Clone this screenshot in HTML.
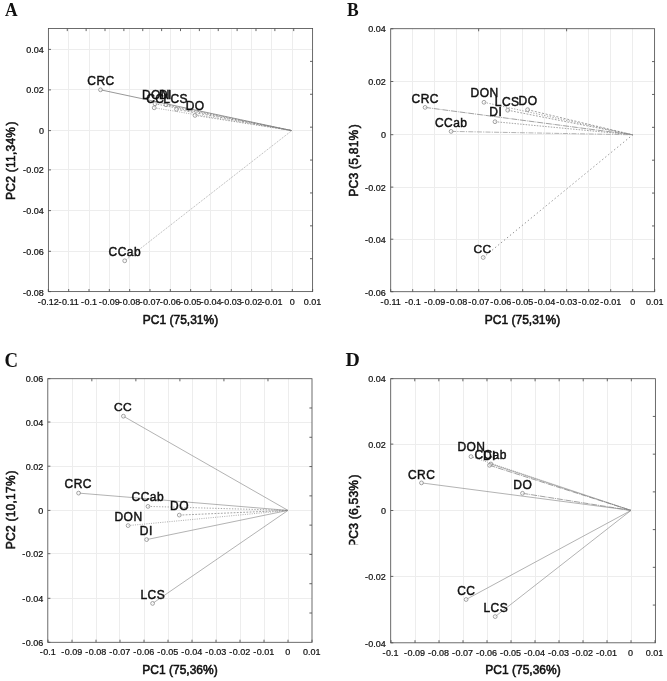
<!DOCTYPE html>
<html><head><meta charset="utf-8"><title>PCA biplots</title>
<style>
html,body{margin:0;padding:0;background:#fff;}
body{width:667px;height:681px;overflow:hidden;}
svg{display:block;will-change:transform;opacity:0.999;}
text{font-family:"Liberation Sans", sans-serif;fill:#111;}
.tk{font-size:9px;stroke:#111;stroke-width:0.22px;}
.ax{font-size:12px;stroke:#111;stroke-width:0.55px;}
.ay{font-size:12px;stroke:#111;stroke-width:0.55px;letter-spacing:0.25px;}
.lb{font-size:12px;stroke:#111;stroke-width:0.46px;letter-spacing:0.45px;}
.pl{font-family:"Liberation Serif", serif;font-size:17.5px;font-weight:bold;}
</style></head><body>
<svg width="667" height="681" viewBox="0 0 667 681">
<defs><clipPath id="clipD"><rect x="340" y="340" width="40" height="204.6"/></clipPath></defs>
<rect width="667" height="681" fill="#fff"/>
<path d="M68.5 28.50V291.60M89.5 28.50V291.60M109.5 28.50V291.60M129.5 28.50V291.60M149.5 28.50V291.60M170.5 28.50V291.60M190.5 28.50V291.60M210.5 28.50V291.60M231.5 28.50V291.60M251.5 28.50V291.60M271.5 28.50V291.60M292.5 28.50V291.60M48.40 49.5H312.60M48.40 89.5H312.60M48.40 130.5H312.60M48.40 169.5H312.60M48.40 210.5H312.60M48.40 251.5H312.60" stroke="#ededed" stroke-width="1" fill="none"/>
<rect x="48.40" y="28.50" width="264.20" height="263.10" fill="none" stroke="#525252" stroke-width="0.85"/>
<path d="M48.34 291.60v-2.6M68.67 291.60v-2.6M89.00 291.60v-2.6M109.33 291.60v-2.6M129.66 291.60v-2.6M149.99 291.60v-2.6M170.32 291.60v-2.6M190.65 291.60v-2.6M210.98 291.60v-2.6M231.31 291.60v-2.6M251.64 291.60v-2.6M271.97 291.60v-2.6M292.30 291.60v-2.6M312.63 291.60v-2.6M48.40 49.40h2.6M48.40 89.90h2.6M48.40 130.60h2.6M48.40 169.90h2.6M48.40 210.60h2.6M48.40 251.30h2.6M48.40 291.60h2.6M67.27 28.50v2.6M86.14 28.50v2.6M105.01 28.50v2.6M123.89 28.50v2.6M142.76 28.50v2.6M161.63 28.50v2.6M180.50 28.50v2.6M199.37 28.50v2.6M218.24 28.50v2.6M237.11 28.50v2.6M255.99 28.50v2.6M274.86 28.50v2.6M293.73 28.50v2.6M312.60 61.39h-2.6M312.60 94.28h-2.6M312.60 127.16h-2.6M312.60 160.05h-2.6M312.60 192.94h-2.6M312.60 225.83h-2.6M312.60 258.71h-2.6" stroke="#525252" stroke-width="0.9" fill="none"/>
<text class="tk" x="48.34" y="304.80" text-anchor="middle">-<tspan dx="0.55">0.12</tspan></text>
<text class="tk" x="68.67" y="304.80" text-anchor="middle">-<tspan dx="0.55">0.11</tspan></text>
<text class="tk" x="89.00" y="304.80" text-anchor="middle">-<tspan dx="0.55">0.1</tspan></text>
<text class="tk" x="109.33" y="304.80" text-anchor="middle">-<tspan dx="0.55">0.09</tspan></text>
<text class="tk" x="129.66" y="304.80" text-anchor="middle">-<tspan dx="0.55">0.08</tspan></text>
<text class="tk" x="149.99" y="304.80" text-anchor="middle">-<tspan dx="0.55">0.07</tspan></text>
<text class="tk" x="170.32" y="304.80" text-anchor="middle">-<tspan dx="0.55">0.06</tspan></text>
<text class="tk" x="190.65" y="304.80" text-anchor="middle">-<tspan dx="0.55">0.05</tspan></text>
<text class="tk" x="210.98" y="304.80" text-anchor="middle">-<tspan dx="0.55">0.04</tspan></text>
<text class="tk" x="231.31" y="304.80" text-anchor="middle">-<tspan dx="0.55">0.03</tspan></text>
<text class="tk" x="251.64" y="304.80" text-anchor="middle">-<tspan dx="0.55">0.02</tspan></text>
<text class="tk" x="271.97" y="304.80" text-anchor="middle">-<tspan dx="0.55">0.01</tspan></text>
<text class="tk" x="292.30" y="304.80" text-anchor="middle">0</text>
<text class="tk" x="312.63" y="304.80" text-anchor="middle">0.01</text>
<text class="tk" x="43.90" y="52.90" text-anchor="end">0.04</text>
<text class="tk" x="43.90" y="93.40" text-anchor="end">0.02</text>
<text class="tk" x="43.90" y="134.10" text-anchor="end">0</text>
<text class="tk" x="43.90" y="173.40" text-anchor="end">-<tspan dx="0.3">0.02</tspan></text>
<text class="tk" x="43.90" y="214.10" text-anchor="end">-<tspan dx="0.3">0.04</tspan></text>
<text class="tk" x="43.90" y="254.80" text-anchor="end">-<tspan dx="0.3">0.06</tspan></text>
<text class="tk" x="43.90" y="295.60" text-anchor="end">-<tspan dx="0.3">0.08</tspan></text>
<text class="ax" x="180.50" y="323.60" text-anchor="middle">PC1 (75,31%)</text>
<g><text class="ay" transform="translate(14.80 160.60) rotate(-90)" text-anchor="middle">PC2 (11,34%<tspan dx="1.3">)</tspan></text></g>
<line x1="100.50" y1="89.80" x2="291.80" y2="130.60" stroke="#6c6c6c" stroke-width="0.7"/>
<line x1="155.00" y1="103.80" x2="291.80" y2="130.60" stroke="#7c7c7c" stroke-width="0.7" stroke-dasharray="1.5 1.3"/>
<line x1="154.20" y1="107.80" x2="291.80" y2="130.60" stroke="#8a8a8a" stroke-width="0.7" stroke-dasharray="1 1.3"/>
<line x1="166.00" y1="104.80" x2="291.80" y2="130.60" stroke="#7c7c7c" stroke-width="0.7" stroke-dasharray="1.8 1.4"/>
<line x1="176.50" y1="109.30" x2="291.80" y2="130.60" stroke="#7c7c7c" stroke-width="0.7" stroke-dasharray="2.1 1.6"/>
<line x1="195.00" y1="115.40" x2="291.80" y2="130.60" stroke="#808080" stroke-width="0.7" stroke-dasharray="1.3 1.5"/>
<line x1="124.70" y1="260.80" x2="291.80" y2="130.60" stroke="#8c8c8c" stroke-width="0.7" stroke-dasharray="1 1.1"/>
<circle cx="100.50" cy="89.80" r="1.9" fill="#fff" fill-opacity="0.55" stroke="#848484" stroke-width="0.75"/>
<circle cx="155.00" cy="103.80" r="1.9" fill="#fff" fill-opacity="0.55" stroke="#848484" stroke-width="0.75"/>
<circle cx="154.20" cy="107.80" r="1.9" fill="#fff" fill-opacity="0.55" stroke="#848484" stroke-width="0.75"/>
<circle cx="166.00" cy="104.80" r="1.9" fill="#fff" fill-opacity="0.55" stroke="#848484" stroke-width="0.75"/>
<circle cx="176.50" cy="109.30" r="1.9" fill="#fff" fill-opacity="0.55" stroke="#848484" stroke-width="0.75"/>
<circle cx="195.00" cy="115.40" r="1.9" fill="#fff" fill-opacity="0.55" stroke="#848484" stroke-width="0.75"/>
<circle cx="124.70" cy="260.80" r="1.9" fill="#fff" fill-opacity="0.55" stroke="#848484" stroke-width="0.75"/>
<text class="lb" x="87.30" y="84.80">CRC</text>
<text class="lb" x="141.90" y="99.00">DON</text>
<text class="lb" x="146.20" y="103.10">CC</text>
<text class="lb" x="159.00" y="99.00">DI</text>
<text class="lb" x="163.30" y="103.10">LCS</text>
<text class="lb" x="185.70" y="109.80">DO</text>
<text class="lb" x="108.60" y="255.70">CCab</text>
<text class="pl" transform="translate(4.90 15.90) scale(1.0 1.12)">A</text>
<path d="M412.5 28.70V291.70M434.5 28.70V291.70M456.5 28.70V291.70M478.5 28.70V291.70M500.5 28.70V291.70M522.5 28.70V291.70M544.5 28.70V291.70M566.5 28.70V291.70M588.5 28.70V291.70M610.5 28.70V291.70M632.5 28.70V291.70M390.70 81.5H654.60M390.70 134.5H654.60M390.70 187.5H654.60M390.70 239.5H654.60" stroke="#ededed" stroke-width="1" fill="none"/>
<rect x="390.70" y="28.70" width="263.90" height="263.00" fill="none" stroke="#525252" stroke-width="0.85"/>
<path d="M390.70 291.70v-2.6M412.70 291.70v-2.6M434.70 291.70v-2.6M456.70 291.70v-2.6M478.70 291.70v-2.6M500.70 291.70v-2.6M522.70 291.70v-2.6M544.70 291.70v-2.6M566.70 291.70v-2.6M588.70 291.70v-2.6M610.70 291.70v-2.6M632.70 291.70v-2.6M654.70 291.70v-2.6M390.70 28.80h2.6M390.70 81.50h2.6M390.70 134.70h2.6M390.70 187.10h2.6M390.70 239.20h2.6M390.70 291.70h2.6M478.67 28.70v2.6M566.63 28.70v2.6M654.60 61.58h-2.6M654.60 94.45h-2.6M654.60 127.33h-2.6M654.60 160.20h-2.6M654.60 193.07h-2.6M654.60 225.95h-2.6M654.60 258.82h-2.6" stroke="#525252" stroke-width="0.9" fill="none"/>
<text class="tk" x="390.70" y="304.80" text-anchor="middle">-<tspan dx="0.55">0.11</tspan></text>
<text class="tk" x="412.70" y="304.80" text-anchor="middle">-<tspan dx="0.55">0.1</tspan></text>
<text class="tk" x="434.70" y="304.80" text-anchor="middle">-<tspan dx="0.55">0.09</tspan></text>
<text class="tk" x="456.70" y="304.80" text-anchor="middle">-<tspan dx="0.55">0.08</tspan></text>
<text class="tk" x="478.70" y="304.80" text-anchor="middle">-<tspan dx="0.55">0.07</tspan></text>
<text class="tk" x="500.70" y="304.80" text-anchor="middle">-<tspan dx="0.55">0.06</tspan></text>
<text class="tk" x="522.70" y="304.80" text-anchor="middle">-<tspan dx="0.55">0.05</tspan></text>
<text class="tk" x="544.70" y="304.80" text-anchor="middle">-<tspan dx="0.55">0.04</tspan></text>
<text class="tk" x="566.70" y="304.80" text-anchor="middle">-<tspan dx="0.55">0.03</tspan></text>
<text class="tk" x="588.70" y="304.80" text-anchor="middle">-<tspan dx="0.55">0.02</tspan></text>
<text class="tk" x="610.70" y="304.80" text-anchor="middle">-<tspan dx="0.55">0.01</tspan></text>
<text class="tk" x="632.70" y="304.80" text-anchor="middle">0</text>
<text class="tk" x="654.70" y="304.80" text-anchor="middle">0.01</text>
<text class="tk" x="385.90" y="32.30" text-anchor="end">0.04</text>
<text class="tk" x="385.90" y="85.00" text-anchor="end">0.02</text>
<text class="tk" x="385.90" y="138.20" text-anchor="end">0</text>
<text class="tk" x="385.90" y="190.60" text-anchor="end">-<tspan dx="0.3">0.02</tspan></text>
<text class="tk" x="385.90" y="242.70" text-anchor="end">-<tspan dx="0.3">0.04</tspan></text>
<text class="tk" x="385.90" y="295.70" text-anchor="end">-<tspan dx="0.3">0.06</tspan></text>
<text class="ax" x="522.50" y="323.60" text-anchor="middle">PC1 (75,31%)</text>
<g><text class="ay" transform="translate(357.90 160.30) rotate(-90)" text-anchor="middle">PC3 (5,81%<tspan dx="1.3">)</tspan></text></g>
<line x1="425.10" y1="107.40" x2="632.70" y2="134.80" stroke="#7a7a7a" stroke-width="0.7" stroke-dasharray="6 0.9 0.9 0.9"/>
<line x1="484.00" y1="102.30" x2="632.70" y2="134.80" stroke="#808080" stroke-width="0.7" stroke-dasharray="1.3 1.5"/>
<line x1="507.70" y1="110.20" x2="632.70" y2="134.80" stroke="#7c7c7c" stroke-width="0.7" stroke-dasharray="1.8 1.4"/>
<line x1="527.60" y1="109.70" x2="632.70" y2="134.80" stroke="#7c7c7c" stroke-width="0.7" stroke-dasharray="2.1 1.6"/>
<line x1="495.00" y1="121.70" x2="632.70" y2="134.80" stroke="#7c7c7c" stroke-width="0.7" stroke-dasharray="1.5 1.3"/>
<line x1="451.10" y1="131.40" x2="632.70" y2="134.80" stroke="#a0a0a0" stroke-width="0.8" stroke-dasharray="5 1.2 1.2 1.2"/>
<line x1="483.20" y1="257.50" x2="632.70" y2="134.80" stroke="#8e8e8e" stroke-width="0.95" stroke-dasharray="1.4 2.45"/>
<circle cx="425.10" cy="107.40" r="1.9" fill="#fff" fill-opacity="0.55" stroke="#848484" stroke-width="0.75"/>
<circle cx="484.00" cy="102.30" r="1.9" fill="#fff" fill-opacity="0.55" stroke="#848484" stroke-width="0.75"/>
<circle cx="507.70" cy="110.20" r="1.9" fill="#fff" fill-opacity="0.55" stroke="#848484" stroke-width="0.75"/>
<circle cx="527.60" cy="109.70" r="1.9" fill="#fff" fill-opacity="0.55" stroke="#848484" stroke-width="0.75"/>
<circle cx="495.00" cy="121.70" r="1.9" fill="#fff" fill-opacity="0.55" stroke="#848484" stroke-width="0.75"/>
<circle cx="451.10" cy="131.40" r="1.9" fill="#fff" fill-opacity="0.55" stroke="#848484" stroke-width="0.75"/>
<circle cx="483.20" cy="257.50" r="1.9" fill="#fff" fill-opacity="0.55" stroke="#848484" stroke-width="0.75"/>
<text class="lb" x="411.60" y="103.00">CRC</text>
<text class="lb" x="470.60" y="96.80">DON</text>
<text class="lb" x="494.80" y="106.00">LCS</text>
<text class="lb" x="518.60" y="104.50">DO</text>
<text class="lb" x="489.30" y="116.00">DI</text>
<text class="lb" x="435.00" y="126.60">CCab</text>
<text class="lb" x="473.50" y="252.70" transform="translate(0 252.7) scale(1 0.94) translate(0 -252.7)">CC</text>
<text class="pl" transform="translate(347.00 16.00) scale(1.0 1.13)">B</text>
<path d="M72.5 378.70V642.30M96.5 378.70V642.30M119.5 378.70V642.30M144.5 378.70V642.30M168.5 378.70V642.30M192.5 378.70V642.30M216.5 378.70V642.30M240.5 378.70V642.30M264.5 378.70V642.30M288.5 378.70V642.30M47.80 422.5H312.00M47.80 466.5H312.00M47.80 510.5H312.00M47.80 553.5H312.00M47.80 598.5H312.00" stroke="#ededed" stroke-width="1" fill="none"/>
<rect x="47.80" y="378.70" width="264.20" height="263.60" fill="none" stroke="#525252" stroke-width="0.85"/>
<path d="M48.00 642.30v-2.6M72.00 642.30v-2.6M96.00 642.30v-2.6M120.00 642.30v-2.6M144.00 642.30v-2.6M168.00 642.30v-2.6M192.00 642.30v-2.6M216.00 642.30v-2.6M240.00 642.30v-2.6M264.00 642.30v-2.6M288.00 642.30v-2.6M312.00 642.30v-2.6M47.80 378.70h2.6M47.80 422.00h2.6M47.80 466.20h2.6M47.80 510.40h2.6M47.80 553.70h2.6M47.80 598.30h2.6M47.80 642.30h2.6M91.83 378.70v2.6M135.87 378.70v2.6M179.90 378.70v2.6M223.93 378.70v2.6M267.97 378.70v2.6M312.00 407.99h-2.6M312.00 437.28h-2.6M312.00 466.57h-2.6M312.00 495.86h-2.6M312.00 525.14h-2.6M312.00 554.43h-2.6M312.00 583.72h-2.6M312.00 613.01h-2.6" stroke="#525252" stroke-width="0.9" fill="none"/>
<text class="tk" x="47.70" y="655.40" text-anchor="middle">-<tspan dx="0.55">0.1</tspan></text>
<text class="tk" x="71.70" y="655.40" text-anchor="middle">-<tspan dx="0.55">0.09</tspan></text>
<text class="tk" x="95.70" y="655.40" text-anchor="middle">-<tspan dx="0.55">0.08</tspan></text>
<text class="tk" x="119.70" y="655.40" text-anchor="middle">-<tspan dx="0.55">0.07</tspan></text>
<text class="tk" x="143.70" y="655.40" text-anchor="middle">-<tspan dx="0.55">0.06</tspan></text>
<text class="tk" x="167.70" y="655.40" text-anchor="middle">-<tspan dx="0.55">0.05</tspan></text>
<text class="tk" x="191.70" y="655.40" text-anchor="middle">-<tspan dx="0.55">0.04</tspan></text>
<text class="tk" x="215.70" y="655.40" text-anchor="middle">-<tspan dx="0.55">0.03</tspan></text>
<text class="tk" x="239.70" y="655.40" text-anchor="middle">-<tspan dx="0.55">0.02</tspan></text>
<text class="tk" x="263.70" y="655.40" text-anchor="middle">-<tspan dx="0.55">0.01</tspan></text>
<text class="tk" x="287.70" y="655.40" text-anchor="middle">0</text>
<text class="tk" x="311.70" y="655.40" text-anchor="middle">0.01</text>
<text class="tk" x="43.20" y="382.20" text-anchor="end">0.06</text>
<text class="tk" x="43.20" y="425.50" text-anchor="end">0.04</text>
<text class="tk" x="43.20" y="469.70" text-anchor="end">0.02</text>
<text class="tk" x="43.20" y="513.90" text-anchor="end">0</text>
<text class="tk" x="43.20" y="557.20" text-anchor="end">-<tspan dx="0.3">0.02</tspan></text>
<text class="tk" x="43.20" y="601.80" text-anchor="end">-<tspan dx="0.3">0.04</tspan></text>
<text class="tk" x="43.20" y="646.25" text-anchor="end">-<tspan dx="0.3">0.06</tspan></text>
<text class="ax" x="180.00" y="674.40" text-anchor="middle">PC1 (75,36%)</text>
<g><text class="ay" transform="translate(14.80 509.80) rotate(-90)" text-anchor="middle">PC2 (10,17%<tspan dx="0.6">)</tspan></text></g>
<line x1="123.40" y1="416.20" x2="288.00" y2="510.40" stroke="#8a8a8a" stroke-width="0.65"/>
<line x1="78.60" y1="493.10" x2="288.00" y2="510.40" stroke="#8a8a8a" stroke-width="0.65"/>
<line x1="148.00" y1="506.40" x2="288.00" y2="510.40" stroke="#808080" stroke-width="0.7" stroke-dasharray="1.3 1.5"/>
<line x1="179.30" y1="515.10" x2="288.00" y2="510.40" stroke="#7c7c7c" stroke-width="0.7" stroke-dasharray="1.8 1.4"/>
<line x1="128.10" y1="525.60" x2="288.00" y2="510.40" stroke="#8a8a8a" stroke-width="0.7" stroke-dasharray="1 1.3"/>
<line x1="146.60" y1="539.60" x2="288.00" y2="510.40" stroke="#8a8a8a" stroke-width="0.65"/>
<line x1="152.60" y1="603.40" x2="288.00" y2="510.40" stroke="#8a8a8a" stroke-width="0.65"/>
<circle cx="123.40" cy="416.20" r="1.9" fill="#fff" fill-opacity="0.55" stroke="#848484" stroke-width="0.75"/>
<circle cx="78.60" cy="493.10" r="1.9" fill="#fff" fill-opacity="0.55" stroke="#848484" stroke-width="0.75"/>
<circle cx="148.00" cy="506.40" r="1.9" fill="#fff" fill-opacity="0.55" stroke="#848484" stroke-width="0.75"/>
<circle cx="179.30" cy="515.10" r="1.9" fill="#fff" fill-opacity="0.55" stroke="#848484" stroke-width="0.75"/>
<circle cx="128.10" cy="525.60" r="1.9" fill="#fff" fill-opacity="0.55" stroke="#848484" stroke-width="0.75"/>
<circle cx="146.60" cy="539.60" r="1.9" fill="#fff" fill-opacity="0.55" stroke="#848484" stroke-width="0.75"/>
<circle cx="152.60" cy="603.40" r="1.9" fill="#fff" fill-opacity="0.55" stroke="#848484" stroke-width="0.75"/>
<text class="lb" x="114.00" y="411.10" transform="translate(0 411.1) scale(1 0.85) translate(0 -411.1)">CC</text>
<text class="lb" x="64.60" y="488.00">CRC</text>
<text class="lb" x="131.60" y="501.00">CCab</text>
<text class="lb" x="170.10" y="509.50">DO</text>
<text class="lb" x="114.50" y="520.50">DON</text>
<text class="lb" x="139.80" y="534.50">DI</text>
<text class="lb" x="140.40" y="598.50">LCS</text>
<text class="pl" transform="translate(4.40 366.80) scale(1.07 1.14)">C</text>
<path d="M415.5 378.70V642.80M439.5 378.70V642.80M463.5 378.70V642.80M487.5 378.70V642.80M511.5 378.70V642.80M535.5 378.70V642.80M559.5 378.70V642.80M583.5 378.70V642.80M607.5 378.70V642.80M631.5 378.70V642.80M390.70 444.5H655.40M390.70 510.5H655.40M390.70 576.5H655.40" stroke="#ededed" stroke-width="1" fill="none"/>
<rect x="390.70" y="378.70" width="264.70" height="264.10" fill="none" stroke="#525252" stroke-width="0.85"/>
<path d="M391.00 642.80v-2.6M415.00 642.80v-2.6M439.00 642.80v-2.6M463.00 642.80v-2.6M487.00 642.80v-2.6M511.00 642.80v-2.6M535.00 642.80v-2.6M559.00 642.80v-2.6M583.00 642.80v-2.6M607.00 642.80v-2.6M631.00 642.80v-2.6M655.00 642.80v-2.6M390.70 378.70h2.6M390.70 444.10h2.6M390.70 510.50h2.6M390.70 576.40h2.6M390.70 642.80h2.6M414.76 378.70v2.6M438.83 378.70v2.6M462.89 378.70v2.6M486.95 378.70v2.6M511.02 378.70v2.6M535.08 378.70v2.6M559.15 378.70v2.6M583.21 378.70v2.6M607.27 378.70v2.6M631.34 378.70v2.6M655.40 416.43h-2.6M655.40 454.16h-2.6M655.40 491.89h-2.6M655.40 529.61h-2.6M655.40 567.34h-2.6M655.40 605.07h-2.6" stroke="#525252" stroke-width="0.9" fill="none"/>
<text class="tk" x="390.60" y="656.00" text-anchor="middle">-<tspan dx="0.55">0.1</tspan></text>
<text class="tk" x="414.60" y="656.00" text-anchor="middle">-<tspan dx="0.55">0.09</tspan></text>
<text class="tk" x="438.60" y="656.00" text-anchor="middle">-<tspan dx="0.55">0.08</tspan></text>
<text class="tk" x="462.60" y="656.00" text-anchor="middle">-<tspan dx="0.55">0.07</tspan></text>
<text class="tk" x="486.60" y="656.00" text-anchor="middle">-<tspan dx="0.55">0.06</tspan></text>
<text class="tk" x="510.60" y="656.00" text-anchor="middle">-<tspan dx="0.55">0.05</tspan></text>
<text class="tk" x="534.60" y="656.00" text-anchor="middle">-<tspan dx="0.55">0.04</tspan></text>
<text class="tk" x="558.60" y="656.00" text-anchor="middle">-<tspan dx="0.55">0.03</tspan></text>
<text class="tk" x="582.60" y="656.00" text-anchor="middle">-<tspan dx="0.55">0.02</tspan></text>
<text class="tk" x="606.60" y="656.00" text-anchor="middle">-<tspan dx="0.55">0.01</tspan></text>
<text class="tk" x="630.60" y="656.00" text-anchor="middle">0</text>
<text class="tk" x="654.60" y="656.00" text-anchor="middle">0.01</text>
<text class="tk" x="385.90" y="382.20" text-anchor="end">0.04</text>
<text class="tk" x="385.90" y="447.60" text-anchor="end">0.02</text>
<text class="tk" x="385.90" y="514.00" text-anchor="end">0</text>
<text class="tk" x="385.90" y="579.90" text-anchor="end">-<tspan dx="0.3">0.02</tspan></text>
<text class="tk" x="385.90" y="646.50" text-anchor="end">-<tspan dx="0.3">0.04</tspan></text>
<text class="ax" x="523.00" y="674.40" text-anchor="middle">PC1 (75,36%)</text>
<g clip-path="url(#clipD)"><text class="ay" transform="translate(357.80 510.60) rotate(-90)" text-anchor="middle">PC3 (6,53%<tspan dx="1.3">)</tspan></text></g>
<line x1="471.00" y1="456.60" x2="631.00" y2="510.40" stroke="#8c8c8c" stroke-width="0.7" stroke-dasharray="1 1.1"/>
<line x1="490.90" y1="464.00" x2="631.00" y2="510.40" stroke="#8a8a8a" stroke-width="0.65"/>
<line x1="489.50" y1="465.30" x2="631.00" y2="510.40" stroke="#7a7a7a" stroke-width="0.7" stroke-dasharray="6 0.9 0.9 0.9"/>
<line x1="421.50" y1="482.90" x2="631.00" y2="510.40" stroke="#8a8a8a" stroke-width="0.65"/>
<line x1="522.50" y1="493.30" x2="631.00" y2="510.40" stroke="#7a7a7a" stroke-width="0.7" stroke-dasharray="6 0.9 0.9 0.9"/>
<line x1="466.10" y1="599.50" x2="631.00" y2="510.40" stroke="#8a8a8a" stroke-width="0.65"/>
<line x1="495.20" y1="616.60" x2="631.00" y2="510.40" stroke="#8a8a8a" stroke-width="0.65"/>
<circle cx="471.00" cy="456.60" r="1.9" fill="#fff" fill-opacity="0.55" stroke="#848484" stroke-width="0.75"/>
<circle cx="490.90" cy="464.00" r="1.9" fill="#fff" fill-opacity="0.55" stroke="#848484" stroke-width="0.75"/>
<circle cx="489.50" cy="465.30" r="1.9" fill="#fff" fill-opacity="0.55" stroke="#848484" stroke-width="0.75"/>
<circle cx="421.50" cy="482.90" r="1.9" fill="#fff" fill-opacity="0.55" stroke="#848484" stroke-width="0.75"/>
<circle cx="522.50" cy="493.30" r="1.9" fill="#fff" fill-opacity="0.55" stroke="#848484" stroke-width="0.75"/>
<circle cx="466.10" cy="599.50" r="1.9" fill="#fff" fill-opacity="0.55" stroke="#848484" stroke-width="0.75"/>
<circle cx="495.20" cy="616.60" r="1.9" fill="#fff" fill-opacity="0.55" stroke="#848484" stroke-width="0.75"/>
<text class="lb" x="457.40" y="451.20">DON</text>
<text class="lb" x="474.40" y="458.60">CCab</text>
<text class="lb" x="483.00" y="460.40">DI</text>
<text class="lb" x="408.00" y="478.50">CRC</text>
<text class="lb" x="513.30" y="489.00">DO</text>
<text class="lb" x="457.20" y="594.80">CC</text>
<text class="lb" x="483.40" y="611.60">LCS</text>
<text class="pl" transform="translate(345.60 366.30) scale(1.13 1.11)">D</text>
</svg>
</body></html>
